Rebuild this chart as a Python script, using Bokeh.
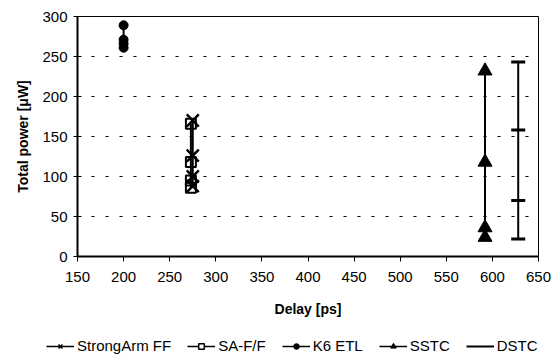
from bokeh.plotting import figure
from bokeh.models import Range1d, Legend, LegendItem, FixedTicker
from bokeh.layouts import column
from bokeh.embed import file_html
from bokeh.resources import INLINE

# Data
strongarm_delay = [275, 275, 275, 275]
strongarm_power = [170, 126, 100, 88]
saff_delay = [273, 273, 273, 273]
saff_power = [166, 118, 95, 86]
k6_delay = [200, 200, 200, 200]
k6_power = [289, 271, 266, 261]
sstc_delay = [592, 592, 592, 592]
sstc_power = [232, 118, 36, 24]
dstc_delay = [628, 628, 628, 628]
dstc_power = [243, 158, 70, 22]

series_names = ["StrongArm FF", "SA-F/F", "K6 ETL", "SSTC", "DSTC"]
x_ticks = [150, 200, 250, 300, 350, 400, 450, 500, 550, 600, 650]
y_ticks = [0, 50, 100, 150, 200, 250, 300]

FONT = "Liberation Sans"

p = figure(frame_width=461, frame_height=240, output_backend="svg", toolbar_location=None,
           x_range=Range1d(150, 650), y_range=Range1d(0, 300),
           min_border_left=77, min_border_right=19, min_border_top=16,
           min_border_bottom=70)
p.background_fill_color = "white"
p.border_fill_color = "white"
p.outline_line_color = "black"
p.outline_line_width = 1

p.xgrid.visible = False
p.ygrid.grid_line_color = "black"
p.ygrid.grid_line_dash = "3 11"
p.ygrid.grid_line_width = 1

for ax in (p.xaxis[0], p.yaxis[0]):
    ax.axis_line_color = "black"
    ax.axis_line_width = 2
    ax.major_tick_line_color = "black"
    ax.minor_tick_line_color = None
    ax.major_label_text_font = FONT
    ax.major_label_text_font_size = "15px"
    ax.major_label_text_color = "black"
    ax.axis_label_text_font = FONT
    ax.axis_label_text_font_size = "14px"
    ax.axis_label_text_font_style = "bold"
    ax.axis_label_text_color = "black"

p.xaxis.ticker = FixedTicker(ticks=x_ticks)
p.yaxis.ticker = FixedTicker(ticks=y_ticks)
p.xaxis.major_tick_in = 0
p.xaxis.major_tick_out = 5
p.yaxis.major_tick_in = 4
p.yaxis.major_tick_out = 4
p.xaxis.major_label_standoff = 10
p.yaxis.major_label_standoff = 6
p.xaxis.axis_label = "Delay [ps]"
p.yaxis.axis_label = "Total power [μW]"
p.xaxis.axis_label_standoff = 16
p.yaxis.axis_label_standoff = 8

# Series
p.line(strongarm_delay, strongarm_power, line_color="black", line_width=2)
p.line(saff_delay, saff_power, line_color="black", line_width=2)
p.scatter(saff_delay, saff_power, marker="square", size=10,
          line_color="black", fill_alpha=0, line_width=2)
p.scatter(strongarm_delay, strongarm_power, marker="x", size=17,
          line_color="black", line_width=2.5)
p.line(k6_delay, k6_power, line_color="black", line_width=2)
p.scatter(k6_delay, k6_power, marker="circle", size=9,
          line_color="black", fill_color="black")
p.line(sstc_delay, sstc_power, line_color="black", line_width=2)
p.scatter(sstc_delay, sstc_power, marker="triangle", size=14,
          line_color="black", fill_color="black")
p.line(dstc_delay, dstc_power, line_color="black", line_width=2)
p.scatter(dstc_delay, dstc_power, marker="dash", size=14,
          line_color="black", line_width=3)

# Legend strip (separate figure below the chart; its ranges keep the
# series themselves out of view so only the legend shows)
lf = figure(frame_width=557, frame_height=32, output_backend="svg", toolbar_location=None,
            x_range=Range1d(0, 1), y_range=Range1d(0, 1),
            min_border=0, outline_line_color=None)
lf.axis.visible = False
lf.grid.visible = False
lf.border_fill_color = "white"
g1 = [lf.line(strongarm_delay, strongarm_power, line_color="black", line_width=1.5),
      lf.scatter(strongarm_delay, strongarm_power, marker="x", size=11,
                 line_color="black", line_width=1.5)]
g2 = [lf.line(saff_delay, saff_power, line_color="black", line_width=1.5),
      lf.scatter(saff_delay, saff_power, marker="square", size=9, line_color="black",
                 fill_color="white", line_width=1.5)]
g3 = [lf.line(k6_delay, k6_power, line_color="black", line_width=1.5),
      lf.scatter(k6_delay, k6_power, marker="circle", size=8, line_color="black",
                 fill_color="black")]
g4 = [lf.line(sstc_delay, sstc_power, line_color="black", line_width=1.5),
      lf.scatter(sstc_delay, sstc_power, marker="triangle", size=10, line_color="black",
                 fill_color="black")]
g5 = [lf.line(dstc_delay, dstc_power, line_color="black", line_width=2)]

legend = Legend(items=[LegendItem(label=n, renderers=g)
                       for n, g in zip(series_names, [g1, g2, g3, g4, g5])],
                orientation="horizontal", location=(46, 4))
legend.label_text_font = FONT
legend.label_text_font_size = "15px"
legend.label_text_color = "black"
legend.border_line_color = None
legend.background_fill_alpha = 0
legend.glyph_width = 28
legend.glyph_height = 14
legend.label_height = 14
legend.label_standoff = 3
legend.spacing = 16
legend.padding = 2
legend.margin = 0
lf.add_layout(legend, "center")

layout = column(p, lf, spacing=0)
open("out.html", "w").write(file_html(layout, INLINE))
